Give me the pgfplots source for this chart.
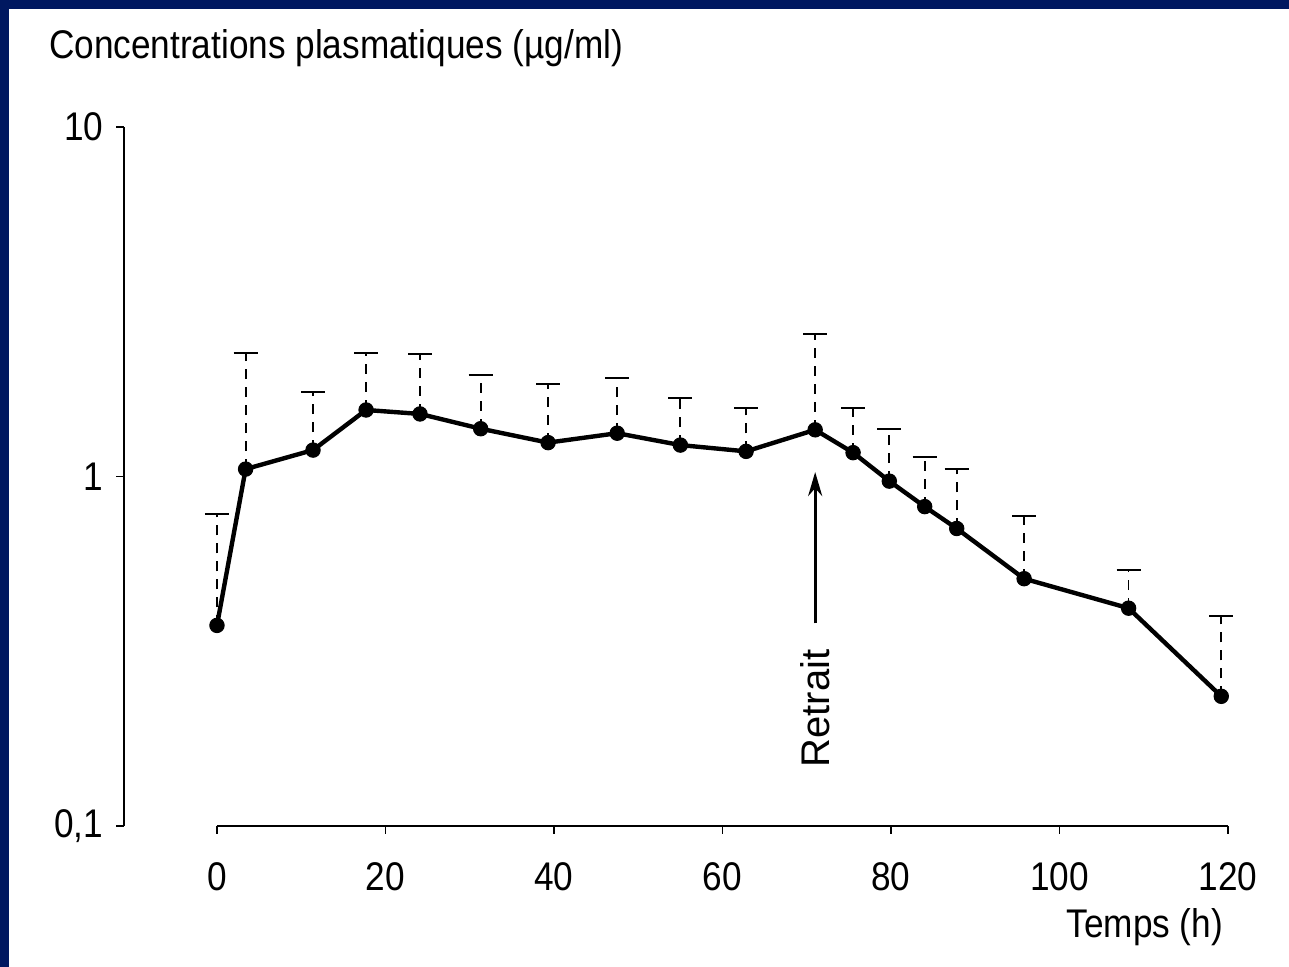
\documentclass[border=0pt]{standalone}
\usepackage{fontspec}
\setmainfont{Liberation Sans}
\newfontfamily\nar{Liberation Sans}[FakeStretch=0.88]
\usepackage{pgfplots}
\pgfplotsset{compat=1.18}
\usepackage{pgfplotstable}
\usetikzlibrary{arrows.meta}

\definecolor{frameblue}{RGB}{0,24,96}

% t (h), concentration, upper error (ug/ml)
\pgfplotstableread{
t     v      err
0     0.375  0.405
3.4   1.05   1.20
11.4  1.19   0.56
17.7  1.55   0.71
24.1  1.51   0.73
31.3  1.37   0.58
39.3  1.25   0.59
47.5  1.33   0.58
55.0  1.23   0.45
62.8  1.18   0.39
71.0  1.36   1.19
75.5  1.17   0.40
79.8  0.97   0.40
84.0  0.82   0.32
87.8  0.71   0.34
95.8  0.51   0.26
108.2 0.42   0.12
119.2 0.235  0.165
}\conc

\begin{document}
\begin{tikzpicture}
% page in pixel units, origin top left
\begin{scope}[x=0.5pt, y=-0.5pt, shift={(-62.15pt,413pt)}]
  \fill[frameblue] (0,0) rectangle (1289,967);
  \fill[white] (9,9) rectangle (1289,967);
\end{scope}

\begin{axis}[
  scale only axis, width=551.85pt, height=349.5pt,
  xmin=-11, xmax=120, ymode=log, ymin=0.1, ymax=10,
  axis lines=left, axis line style={-, line width=1.1pt},
  x axis line style={draw=none},
  xtick={0,20,40,60,80,100,120},
  xticklabels={0,20,40,60,80,100,120},
  ytick={0.1,1,10}, yticklabels={{0,1},1,10},
  yminorticks=false,
  tick align=outside, major tick length=4pt,
  tick style={black, line width=0.8pt},
  ticklabel style={font=\nar\fontsize{20}{24}\selectfont},
  yticklabel style={xshift=-3pt},
  xticklabel style={yshift=-11pt},
  clip=false,
]
\addplot[black, line width=2.2pt, mark=*, mark size=3.6pt,
  mark options={solid, line width=0.5pt},
  error bars/.cd, y dir=plus, y explicit, error mark=|,
  error bar style={line width=0.9pt, dash pattern=on 5pt off 4pt},
  error mark options={solid, line width=1pt, mark size=6pt}]
  table[x=t, y=v, y error=err]{\conc};

\draw[line width=1pt] (axis cs:0,0.1) -- (axis cs:120,0.1);
\draw[line width=1.5pt, -{Stealth[length=12pt,width=7pt]}]
  (axis cs:71,0.38) -- (axis cs:71,1.03);
\node[rotate=90, font=\fontsize{20}{24}\selectfont] at (axis cs:71,0.217) {Retrait};
\end{axis}

\begin{scope}[x=0.5pt, y=-0.5pt, shift={(-62.15pt,413pt)}]
  \node[anchor=west, font=\nar\fontsize{20}{24}\selectfont] at (42,48)
    {Concentrations plasmatiques (µg/ml)};
  \node[anchor=east, font=\nar\fontsize{20}{24}\selectfont] at (1230,927)
    {Temps (h)};
\end{scope}

\pgfresetboundingbox
\useasboundingbox (-62.15pt,-70.5pt) rectangle (582.35pt,413pt);
\end{tikzpicture}
\end{document}
